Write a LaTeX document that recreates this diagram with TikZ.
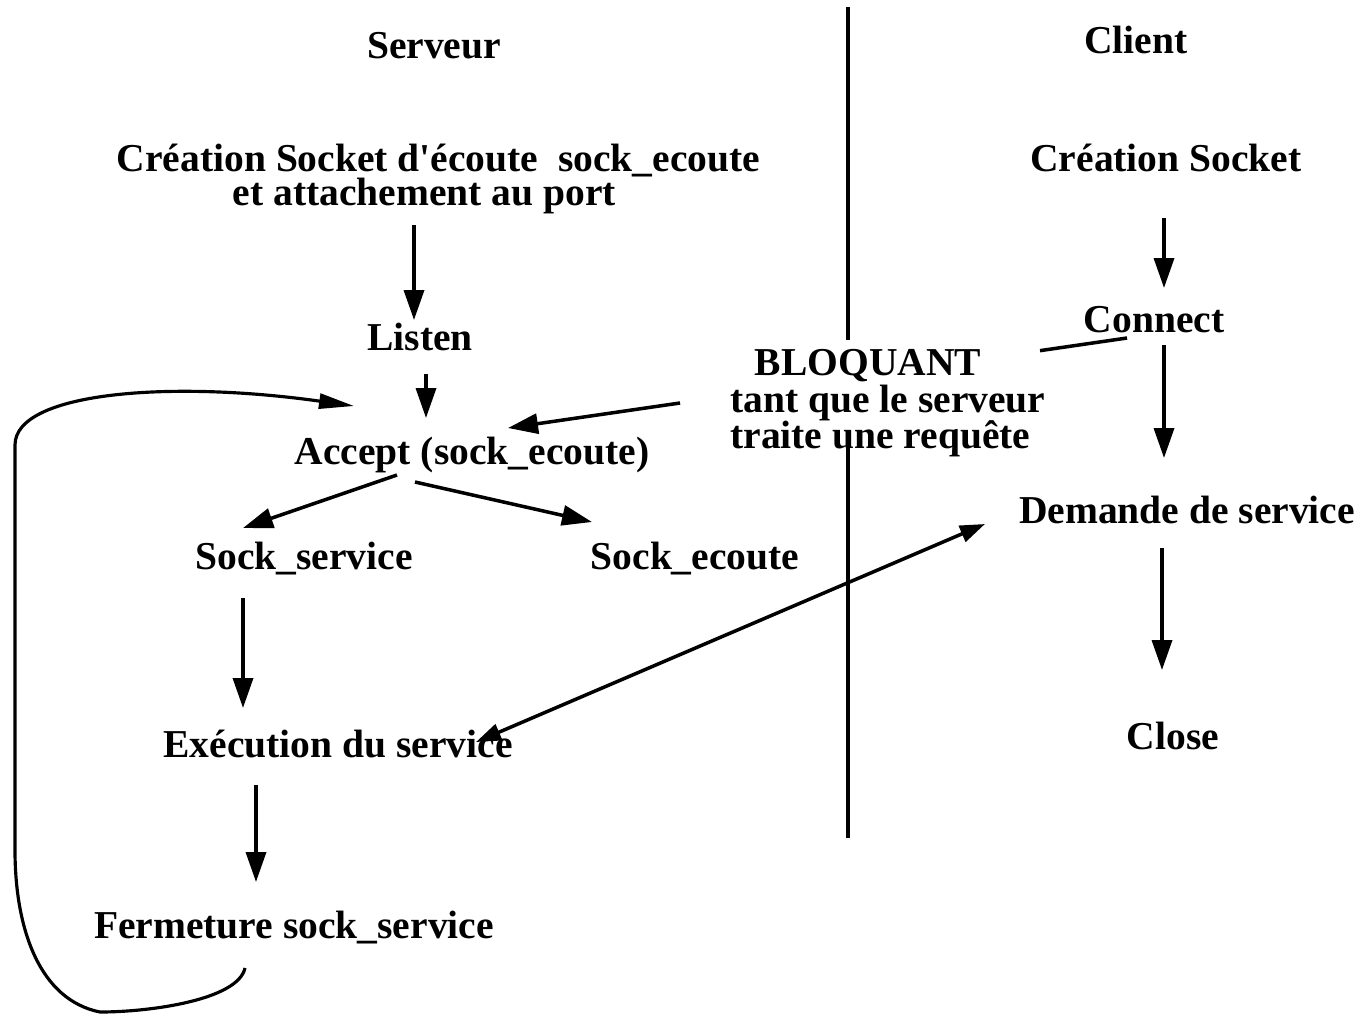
\documentclass[tikz,border=0pt]{standalone}
\usepackage{fontspec}
\setmainfont{Liberation Serif}
\usetikzlibrary{arrows.meta,calc}
\begin{document}
\begin{tikzpicture}[x=0.02cm,y=-0.02cm,
  lbl/.style={font=\fontsize{22.5}{26}\selectfont\bfseries, inner sep=0pt, anchor=base},
  lblw/.style={lbl, anchor=base west},
  wire/.style={line width=2pt},
  arr/.style={wire, -{Triangle[length=0.6cm,width=0.4cm]}},
  darr/.style={wire, {Triangle[length=0.5cm,width=0.34cm]}-{Triangle[length=0.5cm,width=0.34cm]}},
  loop/.style={line width=1.8pt, -{Triangle[length=0.7cm,width=0.3cm]}}]
\useasboundingbox (0,0) rectangle (1362,1015);

% column headings
\node[lbl] (srv) at (434,58) {Serveur};
\node[lbl] (cli) at (1136,53) {Client};

% separator between server and client
\draw[line width=2.3pt] (848,7) -- (848,340);
\draw[line width=2.3pt] (848,443) -- (848,838);

% server side
\node[lbl, align=center, font=\fontsize{22.5}{19.3}\selectfont\bfseries] (sock) at (438.5,205)
  {Création Socket d\textquotesingle écoute\ \ sock\_ecoute\\
   et attachement au port\hspace*{0.56cm}};
\node[lbl] (listen) at (420,350) {Listen};
\node[lbl] (accept) at (472,464) {Accept (sock\_ecoute)};
\node[lbl] (ssvc) at (304,569) {Sock\_service};
\node[lbl] (secoute) at (695,569) {Sock\_ecoute};
\node[lbl] (exec) at (338,757) {Exécution du service};
\node[lbl] (ferm) at (294,938) {Fermeture sock\_service};

% client side
\node[lbl] (csock) at (1166,171) {Création Socket};
\node[lbl] (connect) at (1154,332) {Connect};
\node[lbl] (demande) at (1187,523) {Demande de service};
\node[lbl] (close) at (1173,749) {Close};

% blocking note
\node[lbl] (bloq) at (868,375) {BLOQUANT};
\node[lblw] (tant) at (730,412) {tant que le serveur};
\node[lblw] (traite) at (730,448) {traite une requête};

% server flow
\draw[arr] ($(sock.south)+(-24.5,11.5)$) -- ($(listen.base)+(-6,-30)$);
\draw[arr] ($(listen.base)+(6,24)$) -- ($(accept.base)+(-46,-46)$);
\draw[arr] ($(accept.base)+(-75,11)$) -- ($(ssvc.base)+(-61,-41)$);
\draw[arr] ($(accept.base)+(-57,18)$) -- ($(secoute.base)+(-103,-47)$);
\draw[arr] ($(ssvc.base)+(-61,29)$) -- ($(exec.base)+(-95,-49)$);
\draw[arr] ($(exec.base)+(-82,28)$) -- ($(ferm.base)+(-38,-56)$);

% client flow
\draw[arr] ($(csock.base)+(-2,47)$) -- ($(connect.base)+(10,-44)$);
\draw[arr] ($(connect.base)+(10,13)$) -- ($(demande.base)+(-23,-65)$);
\draw[arr] ($(demande.base)+(-25,25)$) -- ($(close.base)+(-11,-79)$);

% connect blocks on accept (interrupted by the note)
\coordinate (cA) at ($(connect.base)+(-27,6)$);
\coordinate (cB) at ($(accept.base)+(36,-36)$);
\draw[wire] (cA) -- ($(cA)!0.1405!(cB)$);
\draw[arr] ($(cA)!0.722!(cB)$) -- (cB);

% service exchange
\draw[darr] ($(exec.base)+(138,-15)$) -- ($(demande.base)+(-202,1)$);

% loop back to accept
\draw[loop] ($(ferm.base)+(-49,30)$)
  .. controls (238,1000) and (150,1012) .. (100,1012)
  .. controls (40,1000) and (15,930) .. (15,850)
  -- (15,445)
  .. controls (15,392) and (170,380) .. ($(accept.base)+(-118,-58)$);
\end{tikzpicture}
\end{document}
